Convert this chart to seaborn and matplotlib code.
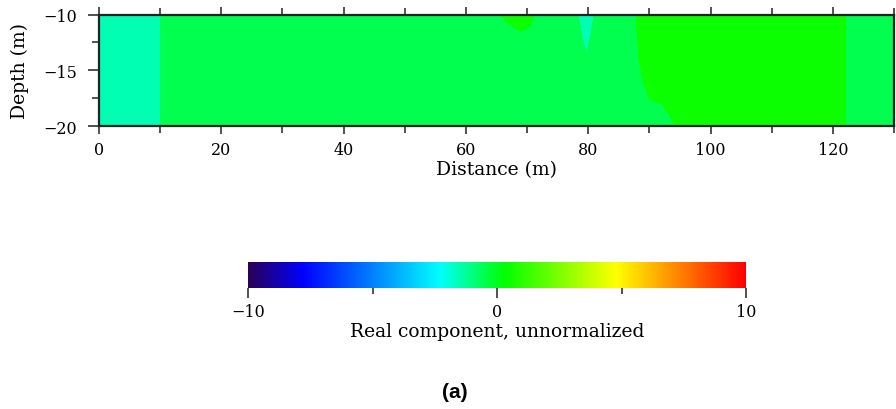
import numpy as np
import matplotlib
matplotlib.use("Agg")
import matplotlib.pyplot as plt
import seaborn as sns
from matplotlib.colors import LinearSegmentedColormap, Normalize
from matplotlib.cm import ScalarMappable
from matplotlib.ticker import FixedLocator, MultipleLocator

# ---- data ----
distance_m = [0, 9.9, 10.1, 64, 66, 69, 72, 77.5, 79.7, 81.75, 86, 88, 90, 92, 94, 96, 121.9, 122.1, 130]
depth_m = [-10, -11, -12, -13.4, -14, -16, -17.6, -18, -20]

val_d10 = [-1.5, -1.5, -0.5, -0.5, 0.17, 0.99, -0.36, -0.5, -1.87, -0.5, -0.5, 0.04, 0.5, 0.5, 0.5, 0.5, 0.5, -0.5, -0.5]
val_d11 = [-1.5, -1.5, -0.5, -0.5, -0.5, 0.5, -0.5, -0.5, -1.46, -0.5, -0.5, 0.02, 0.5, 0.5, 0.5, 0.5, 0.5, -0.5, -0.5]
val_d12 = [-1.5, -1.5, -0.5, -0.5, -0.5, -0.5, -0.5, -0.5, -1.25, -0.5, -0.5, -0.01, 0.5, 0.5, 0.5, 0.5, 0.5, -0.5, -0.5]
val_d134 = [-1.5, -1.5, -0.5, -0.5, -0.5, -0.5, -0.5, -0.5, -1.02, -0.5, -0.5, -0.07, 0.5, 0.5, 0.5, 0.5, 0.5, -0.5, -0.5]
val_d14 = [-1.5, -1.5, -0.5, -0.5, -0.5, -0.5, -0.5, -0.5, -0.5, -0.5, -0.5, -0.09, 0.5, 0.5, 0.5, 0.5, 0.5, -0.5, -0.5]
val_d16 = [-1.5, -1.5, -0.5, -0.5, -0.5, -0.5, -0.5, -0.5, -0.5, -0.5, -0.5, -0.5, 0.5, 0.5, 0.5, 0.5, 0.5, -0.5, -0.5]
val_d176 = [-1.5, -1.5, -0.5, -0.5, -0.5, -0.5, -0.5, -0.5, -0.5, -0.5, -0.5, -0.5, -0.02, 0.5, 0.5, 0.5, 0.5, -0.5, -0.5]
val_d18 = [-1.5, -1.5, -0.5, -0.5, -0.5, -0.5, -0.5, -0.5, -0.5, -0.5, -0.5, -0.5, -0.5, -0.02, 0.5, 0.5, 0.5, -0.5, -0.5]
val_d20 = [-1.5, -1.5, -0.5, -0.5, -0.5, -0.5, -0.5, -0.5, -0.5, -0.5, -0.5, -0.5, -0.5, -0.5, -0.13, 0.5, 0.5, -0.5, -0.5]

contour_levels = list(range(-10, 11))
cbar_ticks = [-10, 0, 10]
cbar_minor = [-5, 5]
cbar_label = "Real component, unnormalized"
x_label = "Distance (m)"
y_label = "Depth (m)"
panel_label = "(a)"

# colour scale anchors (value, colour)
cmap_anchors = [(-10, "#2a0058"), (-7.8, "#0000ff"), (-2.3, "#00ffff"),
                (0.3, "#00ff00"), (4.8, "#ffff00"), (10, "#ff0000")]

# ---- style ----
sns.set_theme(style="ticks")
plt.rcParams["font.family"] = ["DejaVu Serif"]
plt.rcParams["axes.unicode_minus"] = True
plt.rcParams["text.color"] = "black"
plt.rcParams["axes.labelcolor"] = "black"
plt.rcParams["xtick.labelcolor"] = "black"
plt.rcParams["ytick.labelcolor"] = "black"

vmin, vmax = -10, 10
cmap = LinearSegmentedColormap.from_list(
    "rc", [((v - vmin) / (vmax - vmin), c) for v, c in cmap_anchors], N=256)
norm = Normalize(vmin=vmin, vmax=vmax)

fig = plt.figure(figsize=(8.96, 4.10), dpi=100)
W, H = 896, 410
ax = fig.add_axes([99 / W, 1 - 127 / H, (894 - 99) / W, (127 - 15.5) / H])

Z = np.array([val_d10, val_d11, val_d12, val_d134, val_d14, val_d16, val_d176, val_d18, val_d20])
ax.contourf(distance_m, depth_m, Z, levels=contour_levels, cmap=cmap, norm=norm, antialiased=False)

ax.set_xlim(0, 130)
ax.set_ylim(-20, -10)
ax.xaxis.set_major_locator(MultipleLocator(20))
ax.xaxis.set_minor_locator(MultipleLocator(10))
ax.yaxis.set_major_locator(MultipleLocator(5))
ax.yaxis.set_minor_locator(MultipleLocator(2.5))
ax.tick_params(axis="x", which="both", direction="out", top=True, bottom=True,
               length=6, width=1.1, color="#222222", labelsize=11.5, pad=5)
ax.tick_params(axis="x", which="minor", length=5)
ax.tick_params(axis="y", which="major", direction="out", length=8, width=1.1,
               color="#222222", labelsize=11.5, pad=8)
ax.tick_params(axis="y", which="minor", direction="out", length=5, width=1.1, color="#222222")
for s in ax.spines.values():
    s.set_color("#222222")
    s.set_linewidth(1.6)
ax.set_xlabel(x_label, fontsize=13.5, labelpad=1)
ax.set_ylabel(y_label, fontsize=13.5, labelpad=10)

cax = fig.add_axes([248 / W, 1 - 289 / H, 498 / W, 26 / H])
sm = ScalarMappable(norm=norm, cmap=cmap)
cb = fig.colorbar(sm, cax=cax, orientation="horizontal")
cb.outline.set_visible(False)
cb.set_ticks(cbar_ticks)
cax.xaxis.set_minor_locator(FixedLocator(cbar_minor))
cax.tick_params(axis="x", which="major", direction="out", length=7, width=1.1,
                color="#222222", labelsize=11.5, pad=4)
cax.tick_params(axis="x", which="minor", direction="out", length=4, width=1.1, color="#222222")
cb.set_label(cbar_label, fontsize=13.5, labelpad=1)

fig.text(455 / W, 1 - 393 / H, panel_label, ha="center", va="center",
         fontsize=15, fontweight="bold", color="black",
         family=["Liberation Sans", "DejaVu Sans"])

fig.savefig("out.png", dpi=100)
